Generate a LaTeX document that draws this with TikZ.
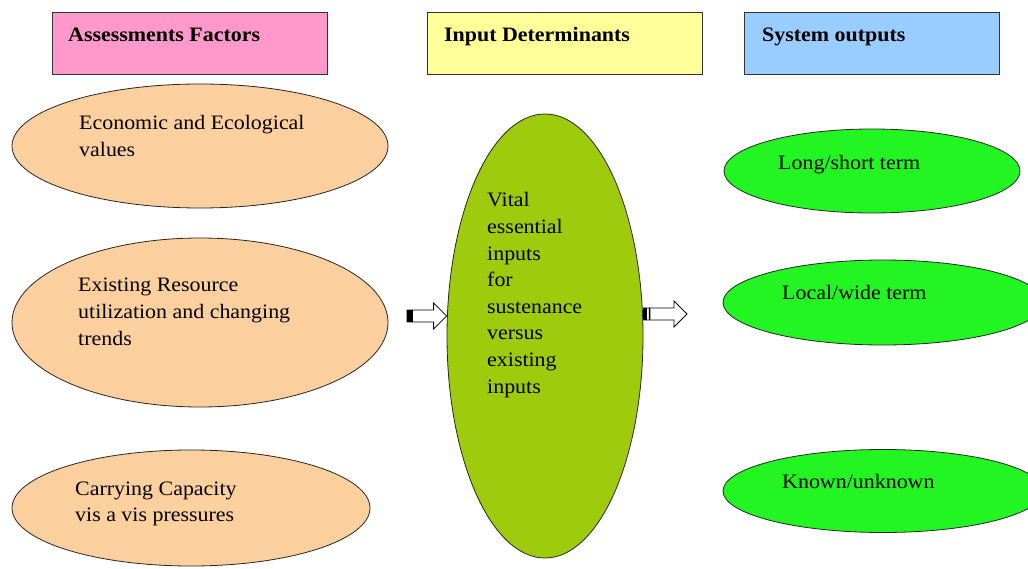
\documentclass[tikz,border=0pt]{standalone}
\usepackage{fontspec}
\setmainfont[FakeStretch=1.07]{Liberation Serif}
\usetikzlibrary{shapes.geometric,calc}

\definecolor{hdrpink}{HTML}{FF99CC}
\definecolor{hdryellow}{HTML}{FFFF99}
\definecolor{hdrblue}{HTML}{99CCFF}
\definecolor{factortan}{HTML}{FCCF9E}
\definecolor{inputolive}{HTML}{9ECC0C}
\definecolor{outgreen}{HTML}{22F522}

% left-aligned block of lines whose reference point is the first baseline
\newcommand\txtlines[1]{\begin{tabular}[t]{@{}l@{}}#1\end{tabular}}

% hollow block arrow from #1 (tail) to #2 (tip); #3 is the striped tail
\newcommand\blockarrow[3]{%
  \path let \p1=#1, \p2=#2 in
    [draw=black, fill=white, line width=0.8pt]
      (\x1,\y1+6pt) -- (\x2-13pt,\y1+6pt) -- (\x2-13pt,\y1+13pt) -- (\x2,\y1)
      -- (\x2-13pt,\y1-13pt) -- (\x2-13pt,\y1-6pt) -- (\x1,\y1-6pt) -- cycle;
  \fill[black] let \p1=#1 in #3;}

\begin{document}
\begin{tikzpicture}[x=1pt, y=-1pt,
  hdr/.style={draw=black!80, line width=0.9pt, minimum width=275pt,
    minimum height=62pt, inner sep=0pt, anchor=north west},
  oval/.style={ellipse, draw=black!85, line width=0.8pt, inner sep=0pt},
  factor/.style={oval, fill=factortan},
  outcome/.style={oval, fill=outgreen},
  txt/.style={anchor=base west, inner sep=0pt,
    font=\fontsize{20.5}{26.6}\selectfont},
  hdrtxt/.style={txt, font=\fontsize{20.5}{26.6}\selectfont\bfseries}]

\useasboundingbox (0,0) rectangle (1028,569);

% column headers
\node[hdr, fill=hdrpink]   (h1) at (52,12)  {};
\node[hdr, fill=hdryellow] (h2) at (427,12) {};
\node[hdr, fill=hdrblue, minimum width=255pt] (h3) at (744,12) {};
\node[hdrtxt] (h1t) at (68,42)  {Assessments Factors};
\node[hdrtxt] (h2t) at (444,42) {Input Determinants};
\node[hdrtxt] (h3t) at (762,42) {System outputs};

% assessment factors
\node[factor, minimum width=376pt, minimum height=124pt] (f1) at (200,146) {};
\node[factor, minimum width=376pt, minimum height=169pt] (f2) at (200,322.5) {};
\node[factor, minimum width=358pt, minimum height=116pt] (f3) at (191,508) {};
\node[txt] (f1t) at (79,130) {\txtlines{Economic and Ecological\\values}};
\node[txt] (f2t) at (78,292) {\txtlines{Existing Resource\\utilization and changing\\trends}};
\node[txt] (f3t) at (75,495) {\txtlines{Carrying Capacity\\vis a vis pressures}};

% input determinant
\node[oval, fill=inputolive, minimum width=196pt, minimum height=444pt] (mid) at (545,336) {};
\node[txt] (midt) at (487,207) {\txtlines{Vital\\essential\\inputs\\for\\sustenance\\versus\\existing\\inputs}};

% system outputs
\node[outcome, minimum width=296pt, minimum height=84pt] (o1) at (872,171) {};
\node[outcome, minimum width=320pt, minimum height=85pt] (o2) at (883,302.5) {};
\node[outcome, minimum width=320pt, minimum height=83pt] (o3) at (883,491) {};
\node[txt] (o1t) at (778,170) {Long/short term};
\node[txt] (o2t) at (782,300) {Local/wide term};
\node[txt] (o3t) at (782,488) {Known/unknown};

% flow arrows
\coordinate (inA) at (407,316);
\coordinate (outB) at (687,314);
\coordinate (inTip) at (inA -| mid.west);
\coordinate (outTail) at (outB -| mid.east);
\blockarrow{(inA)}{(inTip)}{(\x1,\y1+6pt) rectangle (\x1+6pt,\y1-6pt)}
\blockarrow{(outTail)}{(outB)}{(\x1,\y1+6pt) rectangle (\x1+3.5pt,\y1-6pt)
  (\x1+5.5pt,\y1+6pt) rectangle (\x1+7pt,\y1-6pt)}

\end{tikzpicture}
\end{document}
